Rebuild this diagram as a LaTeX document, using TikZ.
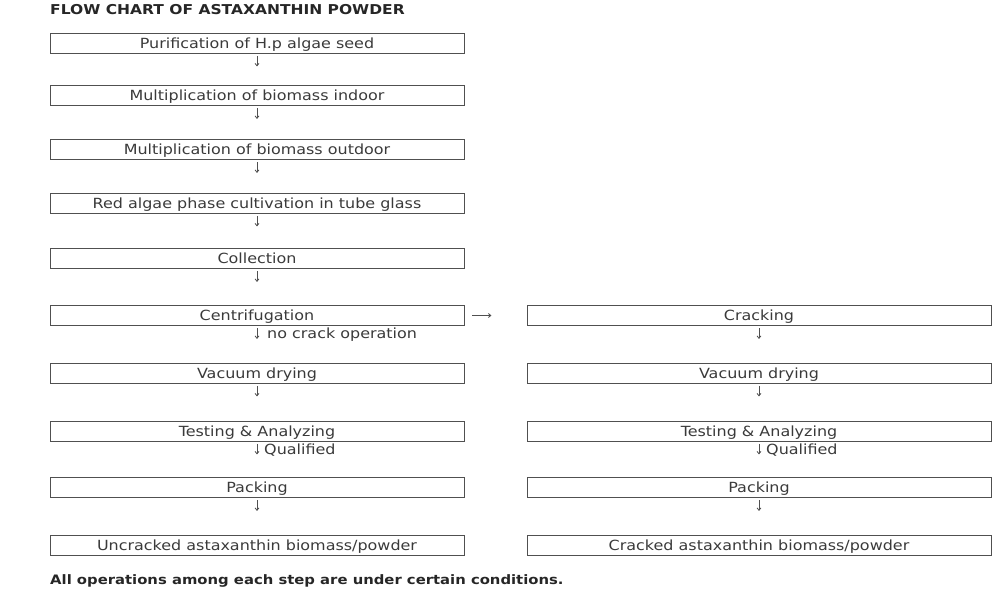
\documentclass[tikz,border=0pt]{standalone}
\usepackage{fontspec}
\setmainfont[FakeStretch=1.14]{DejaVu Sans}
\usetikzlibrary{arrows.meta,calc}
\definecolor{txt}{HTML}{3A3A3A}
\definecolor{ln}{HTML}{505050}
\begin{document}
\begin{tikzpicture}[x=1pt,y=-1pt,
  boxl/.style={draw=ln,line width=0.9pt,minimum width=414pt,minimum height=20pt,inner sep=0pt,text height=10.2pt,text depth=0pt,text=txt,font=\fontsize{14}{16}\selectfont},
  boxr/.style={boxl,minimum width=464pt},
  arr/.style={draw=ln,line width=0.8pt,-{Straight Barb[length=2.5pt,width=4pt]}},
  lbl/.style={anchor=west,inner sep=0pt,text height=10.2pt,text depth=0pt,text=txt,font=\fontsize{14}{16}\selectfont},
  hd/.style={anchor=west,inner sep=0pt,text height=9.5pt,text depth=0pt,text=black!85,font=\bfseries\fontsize{13}{15}\selectfont}]
\useasboundingbox (0,0) rectangle (1000,600);
\node[hd,font=\bfseries\fontsize{13.6}{15}\selectfont] (title) at (50,9.5) {FLOW CHART OF ASTAXANTHIN POWDER};
\node[boxl] (l1) at (257,43) {Purification of H.p algae seed};
\node[boxl] (l2) at (257,95.5) {Multiplication of biomass indoor};
\node[boxl] (l3) at (257,149.5) {Multiplication of biomass outdoor};
\node[boxl] (l4) at (257,203) {Red algae phase cultivation in tube glass};
\node[boxl] (l5) at (257,258.5) {Collection};
\node[boxl] (l6) at (257,315.5) {Centrifugation};
\node[boxl] (l7) at (257,373) {Vacuum drying};
\node[boxl] (l8) at (257,431) {Testing \& Analyzing};
\node[boxl] (l9) at (257,487.5) {Packing};
\node[boxl] (l10) at (257,545.5) {Uncracked astaxanthin biomass/powder};
\node[boxr] (r6) at (759,315.5) {Cracking};
\node[boxr] (r7) at (759,373) {Vacuum drying};
\node[boxr] (r8) at (759,431) {Testing \& Analyzing};
\node[boxr] (r9) at (759,487.5) {Packing};
\node[boxr] (r10) at (759,545.5) {Cracked astaxanthin biomass/powder};
\node[hd] (foot) at (50,580) {All operations among each step are under certain conditions.};
% vertical arrows
\foreach \a/\b in {l1/l2,l2/l3,l3/l4,l4/l5,l5/l6,l6/l7,l7/l8,l8/l9,l9/l10,r6/r7,r7/r8,r8/r9,r9/r10}{
  \draw[arr] ($(\a.south)!2.5pt!(\b.north)$) -- ($(\a.south)!13pt!(\b.north)$);
}
% horizontal arrow
\draw[arr] ($(l6.east)!8pt!(r6.west)$) -- ($(l6.east)!27pt!(r6.west)$);
% labels
\node[lbl] (nc) at (267,333.5) {no crack operation};
\node[lbl] (q1) at (264,449) {Qualified};
\node[lbl] (q2) at (766,449) {Qualified};
\end{tikzpicture}
\end{document}
